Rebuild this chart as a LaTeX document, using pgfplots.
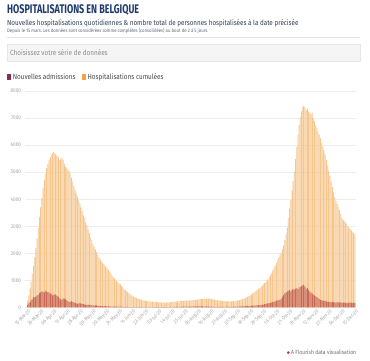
\documentclass[border=0pt]{standalone}
\usepackage{fontspec}
\setmainfont{Fira Sans}[FakeStretch=0.86]
\newfontfamily\titlefont{Fira Sans}[FakeStretch=0.72]
\usepackage{pgfplots}
\usepackage{pgfplotstable}
\pgfplotsset{compat=1.18}
\definecolor{titleblue}{HTML}{1F3C6E}
\definecolor{subcol}{HTML}{2E3F58}
\definecolor{notecol}{HTML}{5F6B7E}
\definecolor{ddfill}{HTML}{F5F5F5}
\definecolor{ddborder}{HTML}{E6E6E6}
\definecolor{ddtext}{HTML}{8C8C8C}
\definecolor{legtext}{HTML}{4A4A4A}
\definecolor{sqpurple}{HTML}{8C2A57}
\definecolor{sqorange}{HTML}{F2A245}
\definecolor{orangebar}{HTML}{F7C68D}
\definecolor{redbar}{HTML}{C96A58}
\definecolor{gridgray}{HTML}{EDEDED}
\definecolor{tickgray}{HTML}{A6A6A6}
\definecolor{sepgray}{HTML}{E4E4E4}
\definecolor{footred}{HTML}{D6333A}

% Hospitalisations cumulees (daily, 15 Mar 2020 -> 15 Dec 2020)
\pgfplotstableread[row sep=\\]{
o\\
250\\ 450\\ 700\\ 950\\ 1250\\ 1550\\ 1850\\ 2200\\ 2550\\ 2950\\ 3350\\ 3700\\ 4050\\ 4400\\ 4700\\ 4950\\ 5150\\
5300\\ 5450\\ 5550\\ 5650\\ 5700\\ 5750\\ 5700\\ 5650\\ 5600\\ 5550\\ 5450\\ 5500\\ 5550\\ 5450\\ 5300\\ 5200\\ 5150\\ 5100\\ 5050\\ 4950\\ 4800\\ 4650\\ 4500\\ 4350\\ 4200\\ 4100\\ 3980\\ 3850\\ 3700\\ 3550\\
3400\\ 3300\\ 3150\\ 3050\\ 2900\\ 2750\\ 2600\\ 2500\\ 2350\\ 2250\\ 2150\\ 2050\\ 1950\\ 1850\\ 1800\\ 1720\\ 1650\\ 1600\\ 1550\\ 1500\\ 1450\\ 1400\\ 1330\\ 1270\\ 1200\\ 1130\\ 1080\\ 1030\\ 980\\ 930\\ 890\\
850\\ 800\\ 750\\ 700\\ 650\\ 610\\ 570\\ 530\\ 490\\ 460\\ 430\\ 400\\ 380\\ 360\\ 340\\ 320\\ 305\\ 290\\ 280\\ 270\\ 260\\ 250\\ 240\\ 235\\ 230\\ 225\\ 220\\ 215\\ 210\\ 205\\
200\\ 195\\ 190\\ 185\\ 185\\ 180\\ 180\\ 180\\ 182\\ 185\\ 188\\ 190\\ 195\\ 200\\ 205\\ 210\\ 215\\ 220\\ 225\\ 230\\ 235\\ 240\\ 245\\ 248\\ 250\\ 252\\ 255\\ 258\\ 260\\ 262\\ 265\\
270\\ 275\\ 280\\ 290\\ 295\\ 300\\ 305\\ 310\\ 315\\ 320\\ 325\\ 330\\ 332\\ 330\\ 328\\ 320\\ 310\\ 300\\ 290\\ 280\\ 270\\ 260\\ 255\\ 250\\ 245\\ 240\\ 235\\ 232\\ 230\\ 228\\ 228\\
228\\ 230\\ 232\\ 235\\ 238\\ 245\\ 255\\ 265\\ 275\\ 290\\ 300\\ 315\\ 330\\ 355\\ 380\\ 400\\ 420\\ 450\\ 480\\ 510\\ 550\\ 590\\ 630\\ 660\\ 690\\ 720\\ 760\\ 800\\ 850\\ 900\\
950\\ 1000\\ 1050\\ 1120\\ 1200\\ 1280\\ 1380\\ 1480\\ 1550\\ 1650\\ 1750\\ 1850\\ 1950\\ 2030\\ 2150\\ 2300\\ 2500\\ 2700\\ 2950\\ 3300\\ 3650\\ 3980\\ 4330\\ 4680\\ 5030\\ 5480\\ 5930\\ 6390\\ 6750\\ 7050\\ 7250\\
7400\\ 7470\\ 7400\\ 7300\\ 7350\\ 7250\\ 7200\\ 7150\\ 7200\\ 7000\\ 6880\\ 6750\\ 6650\\ 6500\\ 6400\\ 6250\\ 6100\\ 5950\\ 5800\\ 5650\\ 5450\\ 5250\\ 5050\\ 4850\\ 4650\\ 4450\\ 4250\\ 4080\\ 3950\\ 3830\\
3720\\ 3600\\ 3450\\ 3320\\ 3250\\ 3200\\ 3150\\ 3080\\ 3000\\ 2950\\ 2900\\ 2850\\ 2800\\ 2750\\ 2700\\
}\cumtable

% Nouvelles admissions (daily)
\pgfplotstableread[row sep=\\]{
r\\
90\\ 150\\ 200\\ 270\\ 310\\ 380\\ 370\\ 400\\ 450\\ 480\\ 540\\ 560\\ 600\\ 590\\ 560\\ 620\\ 590\\
570\\ 560\\ 520\\ 500\\ 450\\ 470\\ 490\\ 460\\ 420\\ 390\\ 340\\ 300\\ 290\\ 340\\ 330\\ 300\\ 270\\ 240\\ 200\\ 220\\ 240\\ 210\\ 190\\ 170\\ 150\\ 130\\ 150\\ 170\\ 145\\ 130\\
120\\ 115\\ 100\\ 95\\ 110\\ 100\\ 90\\ 85\\ 80\\ 70\\ 75\\ 80\\ 65\\ 60\\ 55\\ 60\\ 50\\ 45\\ 50\\ 55\\ 45\\ 40\\ 40\\ 38\\ 35\\ 40\\ 35\\ 30\\ 30\\ 28\\ 30\\
28\\ 25\\ 25\\ 22\\ 22\\ 20\\ 20\\ 18\\ 20\\ 18\\ 15\\ 15\\ 14\\ 15\\ 13\\ 12\\ 14\\ 12\\ 11\\ 12\\ 10\\ 11\\ 10\\ 10\\ 11\\ 10\\ 9\\ 10\\ 10\\ 11\\
10\\ 12\\ 11\\ 12\\ 13\\ 12\\ 14\\ 15\\ 14\\ 16\\ 15\\ 17\\ 18\\ 17\\ 20\\ 22\\ 20\\ 24\\ 25\\ 26\\ 28\\ 27\\ 30\\ 32\\ 30\\ 33\\ 35\\ 34\\ 36\\ 38\\ 35\\
38\\ 40\\ 36\\ 38\\ 40\\ 37\\ 42\\ 40\\ 38\\ 36\\ 35\\ 38\\ 33\\ 30\\ 32\\ 30\\ 28\\ 27\\ 25\\ 26\\ 24\\ 25\\ 24\\ 26\\ 23\\ 22\\ 24\\ 25\\ 23\\ 24\\ 26\\
25\\ 27\\ 26\\ 28\\ 30\\ 29\\ 32\\ 35\\ 33\\ 38\\ 40\\ 42\\ 45\\ 48\\ 50\\ 55\\ 52\\ 58\\ 62\\ 65\\ 70\\ 68\\ 75\\ 80\\ 85\\ 90\\ 95\\ 100\\ 110\\ 120\\
130\\ 140\\ 150\\ 165\\ 175\\ 190\\ 200\\ 215\\ 230\\ 250\\ 260\\ 270\\ 290\\ 330\\ 400\\ 460\\ 520\\ 560\\ 590\\ 620\\ 640\\ 600\\ 660\\ 690\\ 650\\ 700\\ 720\\ 680\\ 740\\ 760\\ 790\\
820\\ 850\\ 780\\ 700\\ 720\\ 640\\ 600\\ 560\\ 520\\ 480\\ 450\\ 420\\ 380\\ 350\\ 320\\ 280\\ 270\\ 260\\ 240\\ 250\\ 230\\ 210\\ 220\\ 200\\ 190\\ 210\\ 200\\ 190\\ 180\\ 200\\
190\\ 180\\ 200\\ 170\\ 180\\ 190\\ 175\\ 160\\ 180\\ 170\\ 185\\ 175\\ 165\\ 180\\ 175\\
}\newtable

\begin{document}
\begin{tikzpicture}[x=1pt,y=1pt]
\fill[white, use as bounding box] (0,0) rectangle (370,361);

% header texts
\node[anchor=base west, inner sep=0, text=titleblue, font=\titlefont\bfseries\fontsize{12.5}{14}\selectfont] at (7,347.7) {HOSPITALISATIONS EN BELGIQUE};
\node[anchor=base west, inner sep=0, text=subcol, font=\fontsize{7.3}{8.5}\selectfont] at (7,335.7) {Nouvelles hospitalisations quotidiennes \& nombre total de personnes hospitalisées à la date précisée};
\node[anchor=base west, inner sep=0, text=notecol, font=\fontsize{4.95}{5.8}\selectfont] at (7,328) {Depuis le 15 mars. Les données sont considérées comme complètes (consolidées) au bout de 2 à 5 jours.};
\draw[sepgray, line width=0.5pt] (7,323.3) -- (360,323.3);

% dropdown
\filldraw[fill=ddfill, draw=ddborder, line width=0.4pt] (7,299.3) rectangle (360,316.7);
\node[anchor=west, inner sep=0, text=ddtext, font=\fontsize{7.4}{8.5}\selectfont] at (10,308.3) {Choisissez votre série de données};

% legend
\fill[sqpurple] (7.3,281) rectangle (11,286.7);
\node[anchor=west, inner sep=0, text=legtext, font=\fontsize{7.4}{8.5}\selectfont] at (12.6,284) {Nouvelles admissions};
\fill[sqorange] (81.7,281) rectangle (85.6,286.7);
\node[anchor=west, inner sep=0, text=legtext, font=\fontsize{7.4}{8.5}\selectfont] at (87.4,284) {Hospitalisations cumulées};

\begin{axis}[
  at={(25pt,53.5pt)}, anchor=south west,
  scale only axis, width=331pt, height=216.5pt,
  xmin=-2.1, xmax=275.8, ymin=0, ymax=8000,
  ytick={0,1000,...,8000},
  xtick={0,11,...,275},
  xticklabels={15-Mar-20,26-Mar-20,06-Apr-20,17-Apr-20,28-Apr-20,09-May-20,20-May-20,31-May-20,11-Jun-20,22-Jun-20,03-Jul-20,14-Jul-20,25-Jul-20,05-Aug-20,16-Aug-20,27-Aug-20,07-Sep-20,18-Sep-20,29-Sep-20,10-Oct-20,21-Oct-20,01-Nov-20,12-Nov-20,23-Nov-20,04-Dec-20,15-Dec-20},
  ymajorgrids, grid style={draw=gridgray, line width=0.5pt},
  axis line style={draw=none},
  major tick length=0pt,
  y tick label style={font=\fontsize{5.4}{6}\selectfont, text=tickgray, anchor=east, xshift=-0.5pt,
     /pgf/number format/.cd, set thousands separator={}, assume math mode=true},
  x tick label style={font=\fontsize{5.2}{6}\selectfont, text=tickgray, rotate=45, anchor=north east, inner sep=0.5pt, yshift=-1pt},
]
\addplot[ybar, bar width=0.62, bar shift=0pt, fill=orangebar, draw=none] table[x expr=\coordindex, y=o] {\cumtable};
\addplot[ybar, bar width=0.62, bar shift=0pt, fill=redbar, draw=none] table[x expr=\coordindex, y=r] {\newtable};
\end{axis}

% footer
\fill[footred] (288.3,8.3) circle (1.5);
\node[anchor=west, inner sep=0, text=legtext!80, font=\fontsize{5.9}{7}\selectfont] at (291,8.3) {A Flourish data visualisation};
\end{tikzpicture}
\end{document}
